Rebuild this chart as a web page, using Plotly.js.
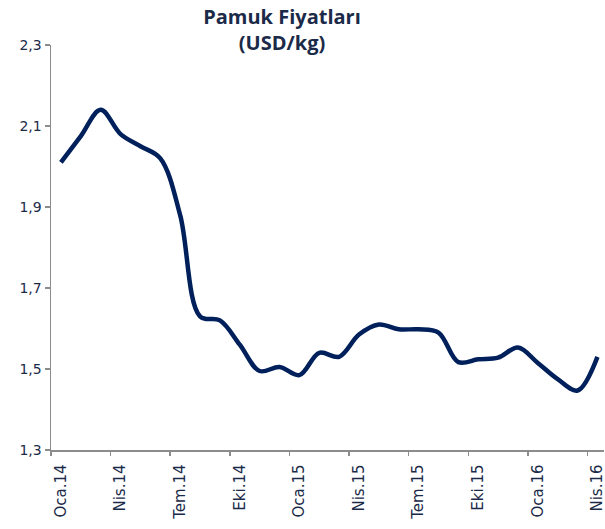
<!DOCTYPE html>
<html>
<head>
<meta charset="utf-8">
<script src="https://cdn.plot.ly/plotly-3.0.1.min.js"></script>
<style>html,body{margin:0;padding:0;background:#fff;}#chart{width:605px;height:529px;}</style>
</head>
<body>
<div id="chart"></div>
<script>
// Monthly categories (Jan 2014 - Apr 2016)
const months = ["Oca.14","Şub.14","Mar.14","Nis.14","May.14","Haz.14","Tem.14","Ağu.14","Eyl.14","Eki.14","Kas.14","Ara.14",
                "Oca.15","Şub.15","Mar.15","Nis.15","May.15","Haz.15","Tem.15","Ağu.15","Eyl.15","Eki.15","Kas.15","Ara.15",
                "Oca.16","Şub.16","Mar.16","Nis.16"];
// Cotton price, USD/kg
const prices = [2.01, 2.075, 2.14, 2.08, 2.05, 2.02, 1.88, 1.63, 1.62, 1.56, 1.495, 1.505,
                1.485, 1.54, 1.53, 1.585, 1.61, 1.598, 1.598, 1.59, 1.517, 1.524, 1.528, 1.553,
                1.515, 1.475, 1.447, 1.53];
// Labelled categories (every 3 months)
const tickLabels = ["Oca.14","Nis.14","Tem.14","Eki.14","Oca.15","Nis.15","Tem.15","Eki.15","Oca.16","Nis.16"];
const yTicks = [1.3, 1.5, 1.7, 1.9, 2.1, 2.3];

const labelIdx = tickLabels.map(l => months.indexOf(l));
const boundaryTicks = labelIdx.map(i => i - 0.5);

const txtColor = '#1b2a48';
const axisGray = '#8c8c8c';
const xr = [-0.5, 27.33];

const data = [{
  x: months,
  y: prices,
  type: 'scatter',
  mode: 'lines',
  line: {color: '#00205b', width: 4.5, shape: 'spline', smoothing: 1},
  hoverinfo: 'x+y'
}];

const layout = {
  width: 605, height: 529,
  margin: {l: 51, r: 1, t: 45, b: 79},
  paper_bgcolor: '#fff', plot_bgcolor: '#fff',
  separators: ',.',
  showlegend: false,
  title: {
    text: '<b>Pamuk Fiyatları</b><br><b>(USD/kg)</b>',
    font: {family: 'Open Sans, Liberation Sans, sans-serif', size: 20, color: txtColor},
    x: 282/605, xanchor: 'center', xref: 'container',
    y: 1 - 24/529, yanchor: 'top', yref: 'container'
  },
  font: {family: 'DejaVu Sans, sans-serif', size: 15, color: txtColor},
  xaxis: {
    type: 'category',
    range: xr,
    tickmode: 'array',
    tickvals: tickLabels,
    ticktext: tickLabels,
    tickangle: -90,
    ticks: 'outside', ticklen: 7, tickcolor: 'rgba(0,0,0,0)',
    showline: true, linecolor: axisGray, linewidth: 1.5,
    showgrid: false, zeroline: false,
    tickfont: {family: 'DejaVu Sans, sans-serif', size: 15, color: txtColor}
  },
  xaxis2: {
    overlaying: 'x',
    anchor: 'y',
    range: xr,
    tickmode: 'array',
    tickvals: boundaryTicks,
    showticklabels: false,
    ticks: 'outside', ticklen: 5, tickcolor: axisGray, tickwidth: 1.5,
    showline: false, showgrid: false, zeroline: false
  },
  yaxis: {
    range: [1.3, 2.3],
    tickmode: 'array',
    tickvals: yTicks,
    tickformat: '.1f',
    ticks: 'outside', ticklen: 5, tickcolor: axisGray, tickwidth: 1.5,
    showline: true, linecolor: axisGray, linewidth: 1.5,
    showgrid: false, zeroline: false,
    tickfont: {family: 'DejaVu Sans, sans-serif', size: 14, color: txtColor}
  }
};

// invisible trace to activate xaxis2
data.push({x: [0], y: [1.3], xaxis: 'x2', yaxis: 'y', mode: 'markers', marker: {opacity: 0}, hoverinfo: 'skip', showlegend: false});

Plotly.newPlot('chart', data, layout, {displayModeBar: false, staticPlot: true});
</script>
</body>
</html>
